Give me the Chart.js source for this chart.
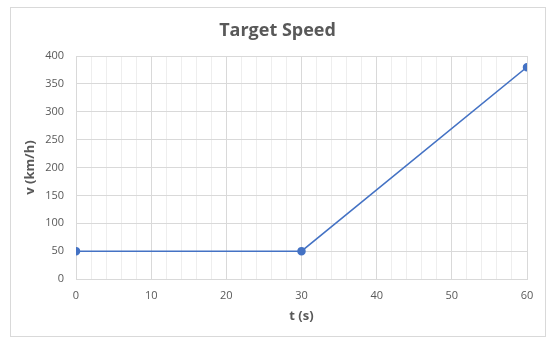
<!DOCTYPE html>
<html>
<head>
<meta charset="utf-8">
<script src="https://cdn.jsdelivr.net/npm/chart.js@4/dist/chart.umd.min.js"></script>
<style>
html,body{margin:0;padding:0;background:#fff;}
#wrap{position:relative;width:550px;height:346px;}
</style>
</head>
<body>
<div id="wrap"><canvas id="c" width="550" height="346"></canvas></div>
<script>
const chartTitle = "Target Speed";
const xTitle = "t (s)";
const yTitle = "v (km/h)";
const timeValues = [0, 30, 60];
const speedValues = [50, 50, 380];
const xTickRange = [0, 60];
const yTickRange = [0, 400];

const FONT = "'Open Sans', sans-serif";
const TXT = "#595959";

const borderPlugin = {
  id: 'outerBorder',
  beforeDraw(chart) {
    const ctx = chart.ctx;
    ctx.save();
    ctx.fillStyle = '#fff';
    ctx.fillRect(0, 0, chart.width, chart.height);
    ctx.strokeStyle = '#d9d9d9';
    ctx.lineWidth = 1;
    ctx.strokeRect(10.5, 7.5, 535, 329);
    ctx.restore();
  }
};

new Chart(document.getElementById('c'), {
  type: 'scatter',
  data: {
    datasets: [{
      data: timeValues.map((t, i) => ({x: t, y: speedValues[i]})),
      showLine: true,
      borderColor: '#4472C4',
      backgroundColor: '#4472C4',
      borderWidth: 1.5,
      pointRadius: 3.5,
      pointHoverRadius: 3.5,
      tension: 0
    }]
  },
  options: {
    responsive: false,
    animation: false,
    layout: {padding: {left: 28, right: 23, top: 0, bottom: 0}},
    plugins: {
      legend: {display: false},
      tooltip: {enabled: false},
      title: {
        display: true,
        text: chartTitle,
        color: TXT,
        font: {family: FONT, size: 18, weight: 'bold'},
        padding: {top: 20, bottom: 14.4}
      }
    },
    scales: {
      x: {
        type: 'linear',
        min: xTickRange[0],
        max: xTickRange[1],
        afterFit(scale) { scale.height = 67; },
        ticks: {
          stepSize: 2,
          autoSkip: false,
          maxRotation: 0,
          color: TXT,
          padding: 10,
          font: {family: FONT, size: 11},
          callback: v => (v % 10 === 0 ? String(v) : '')
        },
        grid: {
          drawTicks: false,
          color: ctx => (ctx.tick && ctx.tick.value % 10 === 0 ? '#d9d9d9' : '#eeeeee'),
          lineWidth: 1
        },
        border: {color: '#d9d9d9'},
        title: {
          display: true,
          text: xTitle,
          color: TXT,
          font: {family: FONT, size: 13, weight: 'bold'},
          padding: {top: 0, bottom: 22}
        }
      },
      y: {
        min: yTickRange[0],
        max: yTickRange[1],
        afterFit(scale) { scale.width = 48; },
        ticks: {
          stepSize: 50,
          color: TXT,
          padding: 12,
          font: {family: FONT, size: 11}
        },
        grid: {drawTicks: false, color: '#d9d9d9', lineWidth: 1},
        border: {color: '#d9d9d9'},
        title: {
          display: true,
          text: yTitle,
          color: TXT,
          font: {family: FONT, size: 13, weight: 'bold'},
          padding: {top: -6, bottom: 0}
        }
      }
    }
  },
  plugins: [borderPlugin]
});
</script>
</body>
</html>
